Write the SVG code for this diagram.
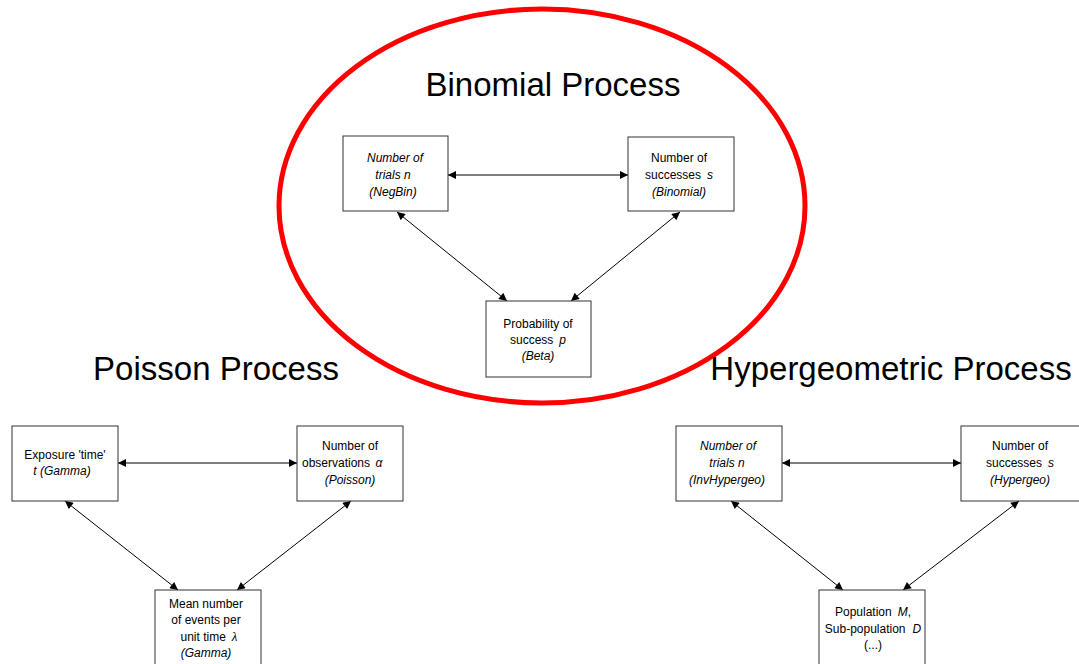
<svg xmlns="http://www.w3.org/2000/svg" width="1079" height="664" viewBox="0 0 1079 664">
  <defs>
    <marker id="arrow" viewBox="0 0 10 10" refX="10" refY="5" markerWidth="10" markerHeight="8" markerUnits="userSpaceOnUse" orient="auto-start-reverse">
      <path d="M0,0 L10,5 L0,10 z" fill="#000"/>
    </marker>
  </defs>
  <style>
    .box { fill: #fff; stroke: #333; stroke-width: 1; }
    .lbl { font-family: "Liberation Sans", Arial, sans-serif; font-size: 12px; fill: #000; text-anchor: middle; }
    .it { font-style: italic; }
    .title { font-family: "Liberation Sans", Arial, sans-serif; font-size: 33px; fill: #000; text-anchor: middle; }
    .conn line { stroke: #000; stroke-width: 1; marker-start: url(#arrow); marker-end: url(#arrow); }
  </style>
  <rect width="1079" height="664" fill="#fff"/>

  <!-- highlight round the binomial group -->
  <ellipse cx="542" cy="206" rx="263" ry="197" fill="none" stroke="#ff0000" stroke-width="5"/>

  <text class="title" x="553" y="96">Binomial Process</text>
  <text class="title" x="216" y="380">Poisson Process</text>
  <text class="title" x="891" y="380">Hypergeometric Process</text>

  <g class="conn" id="connectors">
    <line x1="448" y1="175" x2="628" y2="175"/>
    <line x1="397" y1="212" x2="507" y2="301"/>
    <line x1="680" y1="212" x2="571" y2="301"/>
    <line x1="118" y1="463" x2="297" y2="463"/>
    <line x1="65" y1="501" x2="178" y2="590"/>
    <line x1="351" y1="501" x2="237" y2="590"/>
    <line x1="782" y1="463" x2="961" y2="463"/>
    <line x1="731" y1="501" x2="843" y2="590"/>
    <line x1="1019" y1="501" x2="903" y2="590"/>
  </g>

  <g id="negbin">
    <rect class="box" x="343" y="136" width="105" height="75"/>
    <text class="lbl it" x="395" y="162">Number of</text>
    <text class="lbl it" x="393" y="179">trials n</text>
    <text class="lbl it" x="393" y="196">(NegBin)</text>
  </g>
  <g id="binomial">
    <rect class="box" x="628" y="137" width="106" height="74"/>
    <text class="lbl" x="679" y="162">Number of</text>
    <text class="lbl" x="679" y="179">successes<tspan class="it" dx="6">s</tspan></text>
    <text class="lbl it" x="679" y="196">(Binomial)</text>
  </g>
  <g id="beta">
    <rect class="box" x="486" y="301" width="105" height="76"/>
    <text class="lbl" x="538" y="328">Probability of</text>
    <text class="lbl" x="538" y="344">success<tspan class="it" dx="6">p</tspan></text>
    <text class="lbl it" x="538" y="360">(Beta)</text>
  </g>

  <g id="exposure">
    <rect class="box" x="12" y="426" width="106" height="75"/>
    <text class="lbl" x="65" y="459">Exposure 'time'</text>
    <text class="lbl it" x="62" y="475">t (Gamma)</text>
  </g>
  <g id="poisson">
    <rect class="box" x="297" y="426" width="106" height="75"/>
    <text class="lbl" x="350" y="450">Number of</text>
    <text class="lbl" x="336" y="467">observations</text>
    <text class="lbl it" x="379" y="467" font-family="Liberation Serif, serif" font-size="13">α</text>
    <text class="lbl it" x="350" y="484">(Poisson)</text>
  </g>
  <g id="lambda">
    <rect class="box" x="155" y="590" width="106" height="80"/>
    <text class="lbl" x="206" y="608">Mean number</text>
    <text class="lbl" x="206" y="624">of events per</text>
    <text class="lbl" x="209" y="641">unit time<tspan class="it" dx="6" font-family="Liberation Serif, serif" font-size="13">λ</tspan></text>
    <text class="lbl it" x="206" y="657">(Gamma)</text>
  </g>

  <g id="invhypergeo">
    <rect class="box" x="676" y="426" width="106" height="75"/>
    <text class="lbl it" x="728" y="450">Number of</text>
    <text class="lbl it" x="727" y="467">trials n</text>
    <text class="lbl it" x="727" y="484">(InvHypergeo)</text>
  </g>
  <g id="hypergeo">
    <rect class="box" x="961" y="426" width="124" height="75"/>
    <text class="lbl" x="1020" y="450">Number of</text>
    <text class="lbl" x="1020" y="467">successes<tspan class="it" dx="6">s</tspan></text>
    <text class="lbl it" x="1020" y="484">(Hypergeo)</text>
  </g>
  <g id="population">
    <rect class="box" x="819" y="590" width="106" height="80"/>
    <text class="lbl" x="873" y="616">Population<tspan class="it" dx="6">M</tspan>,</text>
    <text class="lbl" x="873" y="633">Sub-population<tspan class="it" dx="7">D</tspan></text>
    <text class="lbl" x="873" y="649">(...)</text>
  </g>
</svg>
